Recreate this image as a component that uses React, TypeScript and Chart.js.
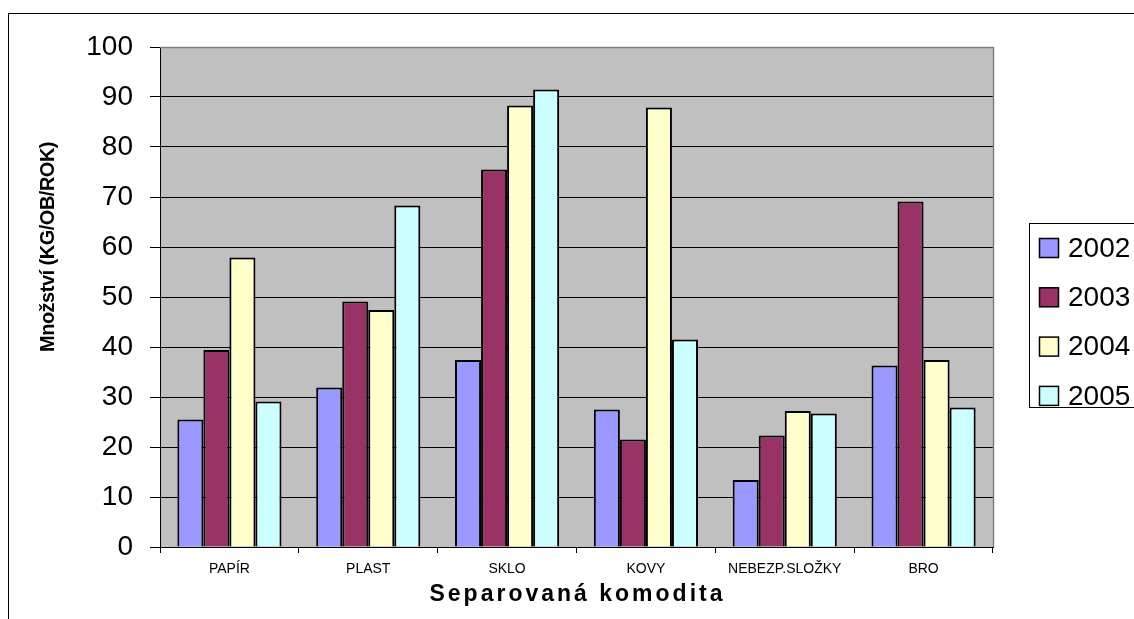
import React, { useEffect, useRef } from "react";
import { Chart, registerables } from "chart.js";

Chart.register(...registerables);

const categories = ["PAPÍR", "PLAST", "SKLO", "KOVY", "NEBEZP.SLOŽKY", "BRO"];
const seriesLabels = ["2002", "2003", "2004", "2005"];
const values2002 = [25.5, 31.9, 37.4, 27.5, 13.4, 36.3];
const values2003 = [39.4, 49.1, 75.5, 21.5, 22.3, 69.1];
const values2004 = [57.9, 47.4, 88.3, 87.9, 27.2, 37.4];
const values2005 = [29.1, 68.3, 91.5, 41.5, 26.7, 27.9];
const seriesColors = ["#9999FF", "#993366", "#FFFFCC", "#CCFFFF"];
const yTitle = "Množství (KG/OB/ROK)";
const xTitle = "Separovaná komodita";

const FONT = "'Liberation Sans', Arial, sans-serif";

const decorPlugin = {
  id: "decor",
  beforeDraw(chart: any) {
    const { ctx, chartArea } = chart;
    ctx.save();
    ctx.fillStyle = "#ffffff";
    ctx.fillRect(0, 0, chart.width, chart.height);
    ctx.strokeStyle = "#000";
    ctx.lineWidth = 1;
    ctx.strokeRect(8.5, 13.5, 3000, 3000);
    ctx.fillStyle = "#C0C0C0";
    ctx.fillRect(chartArea.left, chartArea.top, chartArea.right - chartArea.left, chartArea.bottom - chartArea.top);
    ctx.restore();
  },
  beforeDatasetsDraw(chart: any) {
    const { ctx, chartArea } = chart;
    ctx.save();
    ctx.strokeStyle = "#808080";
    ctx.lineWidth = 1.5;
    ctx.beginPath();
    ctx.moveTo(chartArea.left, chartArea.top + 0.5);
    ctx.lineTo(chartArea.right + 0.5, chartArea.top + 0.5);
    ctx.lineTo(chartArea.right + 0.5, chartArea.bottom);
    ctx.stroke();
    ctx.restore();
  },
  afterDraw(chart: any) {
    const { ctx, chartArea } = chart;
    ctx.save();
    // axis titles
    ctx.fillStyle = "#000";
    ctx.textAlign = "center";
    ctx.textBaseline = "middle";
    ctx.font = `bold 23px ${FONT}`;
    (ctx as any).letterSpacing = "3px";
    ctx.fillText(xTitle, (chartArea.left + chartArea.right) / 2 + 1, 595);
    ctx.font = `bold 20px ${FONT}`;
    (ctx as any).letterSpacing = "-0.5px";
    ctx.save();
    ctx.translate(48, 247);
    ctx.rotate(-Math.PI / 2);
    ctx.fillText(yTitle, 0, 0);
    ctx.restore();
    (ctx as any).letterSpacing = "0px";
    // legend
    ctx.strokeStyle = "#000";
    ctx.lineWidth = 1;
    ctx.strokeRect(1029.5, 223.5, 300, 184);
    const ds = chart.data.datasets;
    ctx.font = `28px ${FONT}`;
    ctx.textAlign = "left";
    ds.forEach((d: any, i: number) => {
      const cy = 248 + i * 49.3;
      ctx.fillStyle = d.backgroundColor;
      ctx.fillRect(1039.5, cy - 9.5, 19, 19);
      ctx.lineWidth = 1.5;
      ctx.strokeRect(1039.5, cy - 9.5, 19, 19);
      ctx.fillStyle = "#000";
      ctx.fillText(d.label, 1068, cy + 1);
    });
    ctx.restore();
  },
};

export default function App() {
  const ref = useRef<HTMLCanvasElement | null>(null);
  useEffect(() => {
    if (!ref.current) return;
    const seriesValues = [values2002, values2003, values2004, values2005];
    const chart = new Chart(ref.current, {
      type: "bar",
      data: {
        labels: categories,
        datasets: seriesLabels.map((label, i) => ({
          label,
          data: seriesValues[i],
          backgroundColor: seriesColors[i],
          borderColor: "#000",
          borderWidth: 2,
          categoryPercentage: 0.75,
          barPercentage: 1.0,
        })),
      },
      options: {
        animation: false,
        responsive: false,
        maintainAspectRatio: false,
        layout: { padding: { left: 0, top: 47, right: 141, bottom: 0 } },
        plugins: { legend: { display: false }, tooltip: { enabled: false }, title: { display: false } },
        scales: {
          x: {
            afterFit: (s: any) => { s.height = 72; },
            grid: {
              offset: true,
              drawOnChartArea: false,
              tickLength: 6,
              tickColor: "#000",
              lineWidth: 1,
            },
            border: { display: true, color: "#000", width: 1 },
            ticks: { color: "#000", font: { family: FONT, size: 14 }, padding: 8, maxRotation: 0, autoSkip: false },
          },
          y: {
            min: 0,
            max: 100,
            afterFit: (s: any) => { s.width = 160; },
            grid: {
              color: (c: any) => (c.tick && c.tick.value === 100 ? "rgba(0,0,0,0)" : "#000"),
              tickColor: "#000",
              tickLength: 10,
              lineWidth: 1,
            },
            border: { display: true, color: "#000", width: 1 },
            ticks: { stepSize: 10, color: "#000", font: { family: FONT, size: 28 }, padding: 17 },
          },
        },
      },
      plugins: [decorPlugin],
    });
    return () => chart.destroy();
  }, []);
  return (
    <div style={{ position: "absolute", left: 0, top: 0, width: 1134, height: 619, background: "#fff" }}>
      <canvas ref={ref} width={1134} height={619} style={{ display: "block", width: 1134, height: 619 }} />
    </div>
  );
}
